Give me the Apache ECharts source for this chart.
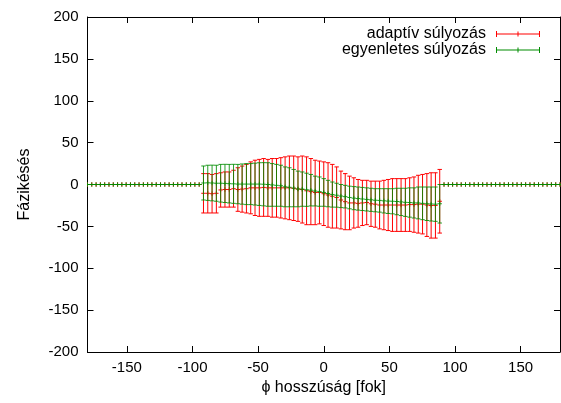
<!DOCTYPE html>
<html>
<head>
<meta charset="utf-8">
<script src="https://cdn.jsdelivr.net/npm/echarts@6/dist/echarts.min.js"></script>
<style>html,body{margin:0;padding:0;background:#fff;}#c{width:561px;height:403px;}</style>
</head>
<body>
<div id="c"></div>
<script>
// longitude samples (degrees)
const lon = [
-180.00,-176.73,-173.45,-170.18,-166.91,-163.64,-160.36,-157.09,-153.82,-150.55,
-147.27,-144.00,-140.73,-137.45,-134.18,-130.91,-127.64,-124.36,-121.09,-117.82,
-114.55,-111.27,-108.00,-104.73,-101.45,-98.18,-94.91,-91.64,-88.36,-85.09,
-81.82,-78.55,-75.27,-72.00,-68.73,-65.45,-62.18,-58.91,-55.64,-52.36,
-49.09,-45.82,-42.55,-39.27,-36.00,-32.73,-29.45,-26.18,-22.91,-19.64,
-16.36,-13.09,-9.82,-6.55,-3.27,0.00,3.27,6.55,9.82,13.09,
16.36,19.64,22.91,26.18,29.45,32.73,36.00,39.27,42.55,45.82,
49.09,52.36,55.64,58.91,62.18,65.45,68.73,72.00,75.27,78.55,
81.82,85.09,88.36,91.64,94.91,98.18,101.45,104.73,108.00,111.27,
114.55,117.82,121.09,124.36,127.64,130.91,134.18,137.45,140.73,144.00,
147.27,150.55,153.82,157.09,160.36,163.64,166.91,170.18,173.45,176.73,
180.00
];
// adaptív súlyozás: mean and error
const redMean = [
0,0,0,0,0,0,0,0,0,0, 0,0,0,0,0,0,0,0,0,0, 0,0,0,0,0,0,0,
-10.5,-10.5,-11,-10.5,-6.5,-6,-6,-5,-6,-5.5,-5,-4,-4,-4,-3.5,-4,-4,-4,-4,-4,-4,-4.5,-5.5,-6,
-7.5,-8.5,-9.5,-9.5,-11,-12.5,-14,-15.5,-18.5,-20.5,-22,-22,-22.5,-22,-21.5,-23,-23.5,-24.5,
-24.5,-24.5,-24.5,-24.5,-24.5,-24.5,-24,-24,-23.5,-23.5,-24.5,-25,-25,-20,
0,0,0,0,0,0,0,0,0,0, 0,0,0,0,0,0,0,0,0,0, 0,0,0,0,0,0,0,0
];
const redErr = [
0,0,0,0,0,0,0,0,0,0, 0,0,0,0,0,0,0,0,0,0, 0,0,0,0,0,0,0,
23.5,23.5,23,23.5,20.5,21,21,22,26,27.5,29,31,33,34,34.5,34,35,35,36,37,38,38.5,38.5,40,
40.5,39.5,38.5,37.5,38,38.5,38,36.5,34.5,33.5,32,30,28.5,27,26.5,27,27.5,28.5,
29.5,30.5,31.5,31.5,31.5,31.5,32,33,34.5,35.5,37.5,39,39,38,
0,0,0,0,0,0,0,0,0,0, 0,0,0,0,0,0,0,0,0,0, 0,0,0,0,0,0,0,0
];
// egyenletes súlyozás: mean and error
const greenMean = [
0,0,0,0,0,0,0,0,0,0, 0,0,0,0,0,0,0,0,0,0, 0,0,0,0,0,0,0,
1.8,2,1.8,1.5,1.5,1.3,1,0.8,0.5,0.5,0.5,0.5,0.5,0.5,0.3,0,-0.5,-1,-1.5,-2.8,-3.3,-4.3,-5.3,-5.5,
-6.3,-6.8,-7.8,-8.5,-9.5,-10.8,-12,-12.8,-13.8,-14.5,-15.5,-16.3,-16.8,-17.3,-17.8,-18.3,-18.8,-19,
-19.5,-19.8,-20,-20.3,-20.8,-21.3,-21.5,-22,-22,-22.5,-23,-23.3,-23.5,-23,
0,0,0,0,0,0,0,0,0,0, 0,0,0,0,0,0,0,0,0,0, 0,0,0,0,0,0,0,0
];
const greenErr = [
0,0,0,0,0,0,0,0,0,0, 0,0,0,0,0,0,0,0,0,0, 0,0,0,0,0,0,0,
20.3,21,21.3,21.5,22.5,22.8,23,23.3,23.5,24,24.5,24.5,25,25.5,25.8,26,25.5,25,24.5,23.8,23.3,22.3,21.3,20.5,
19.8,18.8,17.8,17.5,16.5,15.8,15,14.3,13.8,13.5,13.5,13.8,13.8,13.8,13.8,13.8,13.8,14,
14.5,14.8,15,15.8,16.3,16.8,17.5,18,19,19.5,20,20.3,20.5,23,
0,0,0,0,0,0,0,0,0,0, 0,0,0,0,0,0,0,0,0,0, 0,0,0,0,0,0,0,0
];
const xTicks = [-150,-100,-50,0,50,100,150];
const seriesNames = ['adaptív súlyozás','egyenletes súlyozás'];
const xTitle = 'ϕ hosszúság [fok]';
const yTitle = 'Fázikésés';

const RED = '#ff0000', GREEN = '#008c00';
const FONT = '"Liberation Sans", Arial, Helvetica, sans-serif';

function build(mean, err) {
  return lon.map((x, i) => [x, mean[i], err[i]]);
}
function makeRender(color, opacity) {
  return function (params, api) {
    const x = api.value(0), m = api.value(1), e = api.value(2);
    const t = api.coord([x, m + e]);
    const b = api.coord([x, m - e]);
    const c = api.coord([x, m]);
    const cw = 2.2, pw = 2.2;
    const st = { stroke: color, lineWidth: 1, fill: null, opacity: opacity };
    const L = (x1, y1, x2, y2) => ({ type: 'line', shape: { x1, y1, x2, y2 }, style: st });
    return {
      type: 'group',
      children: [
        L(t[0], t[1], b[0], b[1]),
        L(t[0] - cw, t[1], t[0] + cw, t[1]),
        L(b[0] - cw, b[1], b[0] + cw, b[1]),
        L(c[0] - pw, c[1], c[0] + pw, c[1]),
        L(c[0], c[1] - pw, c[0], c[1] + pw)
      ]
    };
  };
}
const icon = 'path://M0,3.5h44v1h-44z M0,1h1v6h-1z M43,1h1v6h-1z M21.5,1.5h1v5h-1z';

const chart = echarts.init(document.getElementById('c'), null, { renderer: 'canvas' });
const axisBase = {
  axisLine: { show: true, onZero: false, lineStyle: { color: '#000', width: 1 } },
  splitLine: { show: false }
};
chart.setOption({
  animation: false,
  backgroundColor: '#fff',
  textStyle: { fontFamily: FONT },
  grid: { left: 87.5, right: 1, top: 17, bottom: 51, containLabel: false },
  legend: {
    orient: 'vertical', align: 'right', right: 16, top: 21, itemGap: 0,
    itemWidth: 44, itemHeight: 8, icon: icon,
    textStyle: { fontSize: 16, color: '#000', fontFamily: FONT, padding: [0, 5, 0, 0] },
    data: seriesNames
  },
  xAxis: [
    Object.assign({}, axisBase, {
      type: 'value', min: -180, max: 180, position: 'bottom',
      axisTick: { show: true, inside: true, length: 6, customValues: xTicks, lineStyle: { color: '#000' } },
      axisLabel: { customValues: xTicks, color: '#000', fontSize: 15, margin: 8, fontFamily: FONT },
      name: xTitle, nameLocation: 'middle', nameGap: 24,
      nameTextStyle: { fontSize: 16, color: '#000', fontFamily: FONT }
    }),
    Object.assign({}, axisBase, {
      type: 'value', min: -180, max: 180, position: 'top',
      axisTick: { show: true, inside: true, length: 6, customValues: xTicks, lineStyle: { color: '#000' } },
      axisLabel: { show: false }
    })
  ],
  yAxis: [
    Object.assign({}, axisBase, {
      type: 'value', min: -200, max: 200, interval: 50, position: 'left',
      axisTick: { show: true, inside: true, length: 6, lineStyle: { color: '#000' } },
      axisLabel: { color: '#000', fontSize: 15, margin: 9, fontFamily: FONT },
      name: yTitle, nameLocation: 'middle', nameGap: 55, nameRotate: 90,
      nameTextStyle: { fontSize: 16, color: '#000', fontFamily: FONT }
    }),
    Object.assign({}, axisBase, {
      type: 'value', min: -200, max: 200, interval: 50, position: 'right',
      axisTick: { show: true, inside: true, length: 6, lineStyle: { color: '#000' } },
      axisLabel: { show: false }
    })
  ],
  series: [
    {
      name: seriesNames[0], type: 'custom', xAxisIndex: 0, yAxisIndex: 0,
      itemStyle: { color: RED }, clip: true,
      renderItem: makeRender(RED, 1),
      encode: { x: 0, y: [1] },
      data: build(redMean, redErr)
    },
    {
      name: seriesNames[1], type: 'custom', xAxisIndex: 0, yAxisIndex: 0,
      itemStyle: { color: GREEN }, clip: true,
      renderItem: makeRender(GREEN, 0.85),
      encode: { x: 0, y: [1] },
      data: build(greenMean, greenErr)
    }
  ]
});
</script>
</body>
</html>
